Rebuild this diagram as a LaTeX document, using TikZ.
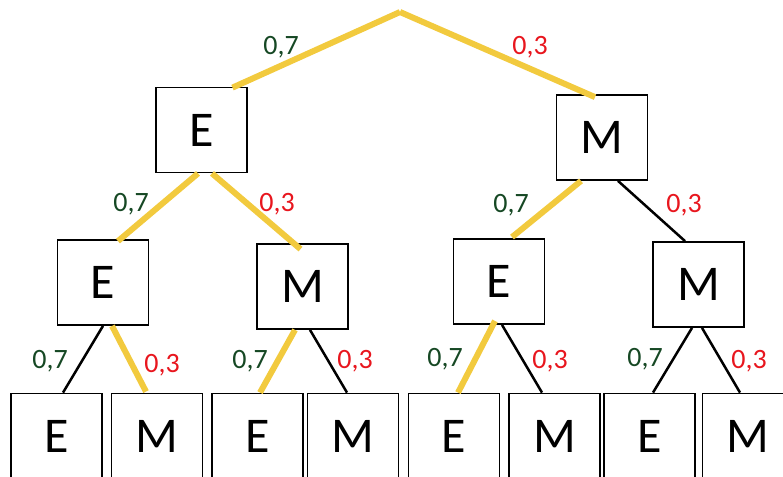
\documentclass[tikz,border=0pt]{standalone}
\usepackage{fontspec}
\setmainfont{Carlito}
\definecolor{pathyellow}{RGB}{242,202,62}
\definecolor{probgreen}{RGB}{22,72,36}
\definecolor{probred}{RGB}{232,22,30}
\begin{document}
\begin{tikzpicture}[x=1pt, y=-1pt,
    box/.style={draw, line width=1.8pt, fill=white, minimum width=91pt, minimum height=85pt, inner sep=0pt, font=\fontsize{50}{60}\selectfont},
    chosen/.style={pathyellow, line width=6pt},
    other/.style={black, line width=2.5pt},
    pgreen/.style={probgreen, font=\fontsize{28}{33}\selectfont},
    pred/.style={probred, font=\fontsize{28}{33}\selectfont}]
    \useasboundingbox (0,0) rectangle (783,476);

    % Tree
    \coordinate (root) at (400,12);
    \node[box] (e) at (201.5,130) {E};
    \node[box] (m) at (602,137.5) {M};
    \node[box] (ee) at (103,282.5) {E};
    \node[box] (em) at (302.5,286.5) {M};
    \node[box] (me) at (499,281.5) {E};
    \node[box] (mm) at (698.5,284.5) {M};
    \node[box] (eee) at (56.5,436) {E};
    \node[box] (eem) at (157,436) {M};
    \node[box] (eme) at (257.5,436) {E};
    \node[box] (emm) at (353,436) {M};
    \node[box] (mee) at (454,436) {E};
    \node[box] (mem) at (554.5,436) {M};
    \node[box] (mme) at (649.5,436) {E};
    \node[box] (mmm) at (748,436) {M};

    % Branches
    \draw[chosen] (root) -- ([xshift=31pt,yshift=-1pt]e.north);
    \draw[chosen] (root) -- ([xshift=-7pt,yshift=-3pt]m.north);
    \draw[chosen] ([xshift=-3.5pt]e.south) -- ([xshift=15pt,yshift=-2pt]ee.north);
    \draw[chosen] ([xshift=10.5pt]e.south) -- ([xshift=-2pt,yshift=-6pt]em.north);
    \draw[chosen] ([xshift=-21pt]m.south) -- ([xshift=13pt,yshift=1pt]me.north);
    \draw[other] ([xshift=16pt]m.south) -- ([xshift=-13.5pt]mm.north);
    \draw[other] (ee.south) -- ([xshift=6.5pt]eee.north);
    \draw[chosen] ([xshift=9pt]ee.south) -- ([xshift=-11pt,yshift=1pt]eem.north);
    \draw[chosen] ([xshift=-7.5pt]em.south) -- ([xshift=2.5pt]eme.north);
    \draw[other] ([xshift=7.5pt]em.south) -- ([xshift=-6pt]emm.north);
    \draw[chosen] ([xshift=-4pt,yshift=4pt]me.south) -- ([xshift=4pt]mee.north);
    \draw[other] ([xshift=3pt]me.south) -- ([xshift=-12.5pt]mem.north);
    \draw[other] ([xshift=-6.5pt]mm.south) -- ([xshift=3.5pt]mme.north);
    \draw[other] ([xshift=3.5pt]mm.south) -- ([xshift=-8pt]mmm.north);

    % Probabilities
    \node[pgreen] (p1) at (281,47) {0,7};
    \node[pred] (q1) at (530,47) {0,3};
    \node[pgreen] (p2) at (131,204) {0,7};
    \node[pred] (q2) at (277,204) {0,3};
    \node[pgreen] (p3) at (511,205) {0,7};
    \node[pred] (q3) at (684,205) {0,3};
    \node[pgreen] (p4) at (50,361) {0,7};
    \node[pred] (q4) at (162,365) {0,3};
    \node[pgreen] (p5) at (250,361) {0,7};
    \node[pred] (q5) at (355,361) {0,3};
    \node[pgreen] (p6) at (445,359) {0,7};
    \node[pred] (q6) at (550,361) {0,3};
    \node[pgreen] (p7) at (645,359) {0,7};
    \node[pred] (q7) at (749,361) {0,3};
\end{tikzpicture}
\end{document}
